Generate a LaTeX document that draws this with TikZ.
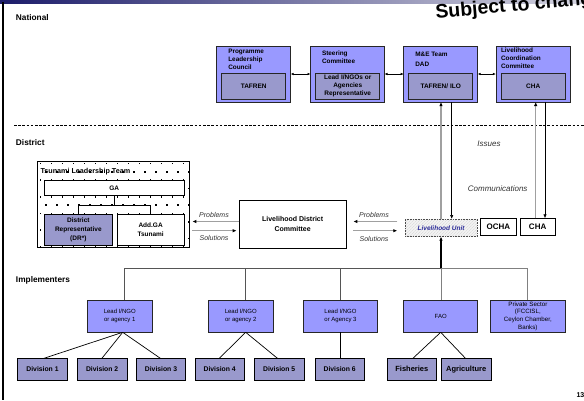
\documentclass[tikz,border=0pt]{standalone}
\usepackage{fontspec}
\setmainfont{Liberation Sans}
\usetikzlibrary{arrows.meta,patterns,calc}
\definecolor{bluefill}{HTML}{9999FF}
\definecolor{greyfill}{HTML}{9999CC}
\definecolor{lublue}{HTML}{2B2B99}
\definecolor{barL}{HTML}{1C1C6A}
\definecolor{barR}{HTML}{D4D4E0}
\definecolor{lgray}{HTML}{A0A0A0}
\definecolor{dgray}{HTML}{555555}
\newcommand{\myfs}[2]{\fontsize{#1}{#2}\selectfont}
\begin{document}
\begin{tikzpicture}[x=1pt,y=-1pt,
  every node/.style={inner sep=0pt, outer sep=0pt},
  natbox/.style={draw=black!85, line width=0.8pt, fill=bluefill, minimum width=74pt, minimum height=56pt},
  natin/.style={draw=black!85, line width=0.8pt, fill=greyfill, minimum width=64pt, minimum height=26pt, align=center, font=\bfseries\myfs{6.5}{8}},
  nattitle/.style={anchor=north west, align=left, font=\bfseries\myfs{6.4}{8}},
  sect/.style={anchor=base west, font=\bfseries\myfs{8.3}{10}},
  whitebox/.style={draw=black, line width=0.8pt, fill=white, align=center, font=\bfseries\myfs{6.5}{9}},
  agency/.style={draw=black!85, line width=0.8pt, fill=bluefill, minimum height=32.3pt, align=center, font=\myfs{6}{8}},
  divbox/.style={draw=black, line width=0.8pt, fill=greyfill, minimum width=49.5pt, minimum height=21.5pt, font=\bfseries\myfs{6.8}{8}},
  lbl/.style={anchor=base, font=\itshape\myfs{7}{8}, text=black!80},
  lblbig/.style={anchor=base, font=\itshape\myfs{8}{9}, text=black!80},
  dblar/.style={draw=black, line width=0.6pt, {Latex[length=3pt,width=2.6pt]}-{Latex[length=3pt,width=2.6pt]}},
  probar/.style={draw=lgray, line width=1.2pt, -{Latex[length=4pt,width=3.4pt,color=black]}},
  grayup/.style={draw=lgray, line width=1.3pt, -{Latex[length=4pt,width=3.4pt,color=black]}},
  blackdown/.style={draw=black, line width=0.7pt, -{Latex[length=4pt,width=3.4pt]}},
  blackup/.style={draw=black, line width=1.2pt, -{Latex[length=4pt,width=3.6pt]}},
  conn/.style={draw=black, line width=0.7pt},
  busgray/.style={draw=dgray, line width=0.7pt},
  buslight/.style={draw=lgray!80!black, line width=0.7pt}
]
\useasboundingbox (0,0) rectangle (584,400);
\fill[white] (0,0) rectangle (584,400);

% top bar and left rule
\shade[left color=barL, right color=barR] (0,0) rectangle (584,3.5);
\draw[line width=2.4pt] (2.8,2) -- (2.8,400);

% stamp text
\node[rotate=5, anchor=base west, font=\bfseries\myfs{19.5}{20}] (stamp) at (436,18.5) {Subject to change};

% section labels
\node[sect] (national) at (16,20.5) {National};
\node[sect] (district) at (16,145) {District};
\node[sect] (implementers) at (16,282) {Implementers};

% dashed separator
\draw[line width=0.7pt, dash pattern=on 2.5pt off 1.7pt] (14,125) -- (584,125);

% national boxes
\node[natbox] (b1) at (253.7,74) {};
\node[natbox] (b2) at (347.5,74) {};
\node[natbox] (b3) at (440.7,74) {};
\node[natbox] (b4) at (532.9,74) {};
\node[natin] (i1) at (253.7,86) {TAFREN};
\node[natin] (i2) at (347.7,86) {Lead I/NGOs or\\Agencies\\Representative};
\node[natin] (i3) at (440.7,86) {TAFREN/ ILO};
\node[natin] (i4) at (533.2,86) {CHA};
\node[nattitle] (t1) at (228.3,48.6) {Programme\\Leadership\\Council};
\node[nattitle] (t2) at (322,50.6) {Steering\\Committee};
\node[nattitle] (t3) at (415.3,52.3) {M\&E Team\\[2pt]DAD};
\node[nattitle] (t4) at (501,48) {Livelihood\\Coordination\\Committee};
\draw[dblar] (b1.east) -- (b2.west);
\draw[dblar] (b2.east) -- (b3.west);
\draw[dblar] (b3.east) -- (b4.west);

% district level
\begin{scope}
  \clip (37.3,161) rectangle (189,247.7);
  \foreach \r in {0,...,10}{
    \foreach \c in {0,...,14}{
      \pgfmathsetmacro\xx{40.3+11*\c+5.5*mod(\r,2)}
      \pgfmathsetmacro\yy{163.5+8.33*\r}
      \fill (\xx-0.7,\yy-0.7) rectangle ++(1.4,1.4);
    }
  }
\end{scope}
\node[draw=black, line width=0.8pt, minimum width=151.7pt, minimum height=86.7pt] (tsu) at (113.15,204.35) {};
\node[anchor=base west, font=\bfseries\myfs{7.2}{8}] (tsulbl) at (40.5,173.5) {Tsunami Leadership Team};
\node[whitebox, minimum width=140.3pt, minimum height=14.3pt] (ga) at (114.15,187.85) {GA};
\node[whitebox, fill=greyfill, minimum width=68.7pt, minimum height=30.7pt] (dr) at (78.35,229.65) {District\\Representative\\(DR*)};
\node[whitebox, minimum width=66.7pt, minimum height=30.7pt] (add) at (150.65,229.65) {Add.GA\\Tsunami};
\coordinate (jY) at (0,205);
\draw[conn] (ga.south) -- (ga.south |- jY);
\draw[conn] (dr.north) -- (dr.north |- jY) -- (add.north |- jY) -- (add.north);

\node[whitebox, minimum width=106.7pt, minimum height=48.3pt, font=\bfseries\myfs{7}{10}] (ldc) at (292.65,224.15) {Livelihood District\\Committee};

\node[draw=black!70, line width=0.7pt, dash pattern=on 0.8pt off 0.8pt,
      preaction={fill=gray!10}, pattern=north east lines, pattern color=gray!30,
      minimum width=72.3pt, minimum height=17.7pt,
      font=\bfseries\itshape\myfs{6.5}{8}, text=lublue] (lu) at (441.15,227.85) {Livelihood Unit};
\node[whitebox, minimum width=35.3pt, minimum height=17pt, font=\bfseries\myfs{8}{9}] (ocha) at (498.35,226.8) {OCHA};
\node[whitebox, minimum width=34.7pt, minimum height=17pt, font=\bfseries\myfs{8}{9}] (cha) at (537.65,226.8) {CHA};

% problems / solutions
\coordinate (pY) at (0,221.5);
\coordinate (sY) at (0,230.7);
\draw[probar, shorten >=3.3pt] (ldc.west |- pY) -- (tsu.east |- pY);
\draw[probar, shorten <=3.3pt, shorten >=2.6pt] (tsu.east |- sY) -- (ldc.west |- sY);
\draw[probar, shorten <=7.7pt, shorten >=7.3pt] (lu.west |- pY) -- (ldc.east |- pY);
\draw[probar, shorten <=7.3pt, shorten >=7.7pt] (ldc.east |- sY) -- (lu.west |- sY);
\node[lbl] (prob1) at (214,217.5) {Problems};
\node[lbl] (sol1) at (214,240.3) {Solutions};
\node[lbl] (prob2) at (374,217.3) {Problems};
\node[lbl] (sol2) at (374,241) {Solutions};

% vertical links to national
\coordinate (v0) at (441,0);
\coordinate (v1) at (451.7,0);
\coordinate (v2) at (535.7,0);
\coordinate (v3) at (545,0);
\draw[grayup] (v0 |- lu.north) -- (v0 |- b3.south);
\draw[blackdown] (v1 |- b3.south) -- (v1 |- lu.north);
\draw[grayup] (v2 |- cha.north) -- (v2 |- b4.south);
\draw[blackdown] (v3 |- b4.south) -- (v3 |- cha.north);
\node[lblbig] (issues) at (489,146.5) {Issues};
\node[lblbig] (comms) at (497.7,191.5) {Communications};

% implementers
\node[agency, minimum width=65pt] (a1) at (119.8,316.15) {Lead I/NGO\\or agency 1};
\node[agency, minimum width=65pt] (a2) at (240.8,316.15) {Lead I/NGO\\or agency 2};
\node[agency, minimum width=74.4pt] (a3) at (340.5,316.15) {Lead I/NGO\\or Agency 3};
\node[agency, minimum width=74pt] (fao) at (440.7,316.15) {FAO};
\node[agency, minimum width=74.3pt, font=\myfs{6.2}{7.8}] (ps) at (527.85,316.15) {Private Sector\\(FCCISL,\\Ceylon Chamber,\\Banks)};

\node[divbox] (d1) at (42.5,369.3) {Division 1};
\node[divbox] (d2) at (102.15,369.3) {Division 2};
\node[divbox] (d3) at (161,369.3) {Division 3};
\node[divbox] (d4) at (219.65,369.3) {Division 4};
\node[divbox] (d5) at (279.15,369.3) {Division 5};
\node[divbox] (d6) at (339.65,369.3) {Division 6};
\node[divbox, font=\bfseries\myfs{7.5}{8}] (fish) at (411.85,369.3) {Fisheries};
\node[divbox, font=\bfseries\myfs{7.5}{8}] (agri) at (466.2,369.3) {Agriculture};

\coordinate (busy) at (0,268.3);
\coordinate (xa1) at (124,0);
\coordinate (xa2) at (245.7,0);
\coordinate (xps) at (527.3,0);
\draw[busgray] (xa1 |- a1.north) -- (xa1 |- busy) -- (v0 |- busy);
\draw[buslight] (v0 |- busy) -- (xps |- busy) -- (xps |- ps.north);
\draw[busgray] (xa2 |- busy) -- (xa2 |- a2.north);
\draw[busgray] (a3.north |- busy) -- (a3.north);
\draw[buslight] (v0 |- busy) -- (v0 |- fao.north);
\draw[blackup] (v0 |- busy) -- (v0 |- lu.south);

\draw[conn] ([xshift=2.9pt]a1.south) -- ([xshift=0.8pt]d1.north);
\draw[conn] ([xshift=2.9pt]a1.south) -- ([xshift=-0.4pt]d2.north);
\draw[conn] ([xshift=2.9pt]a1.south) -- ([xshift=-0.3pt]d3.north);
\draw[conn] ([xshift=4.9pt]a2.south) -- ([xshift=-0.6pt]d4.north);
\draw[conn] ([xshift=4.9pt]a2.south) -- ([xshift=-1.4pt]d5.north);
\draw[conn] (a3.south) -- (a3.south |- d6.north);
\draw[conn] (fao.south) -- ([xshift=0.8pt]fish.north);
\draw[conn] (fao.south) -- ([xshift=-0.5pt]agri.north);

% page number
\node[anchor=base west, font=\bfseries\myfs{7}{8}] (pg) at (576.5,397.5) {13};
\end{tikzpicture}
\end{document}
